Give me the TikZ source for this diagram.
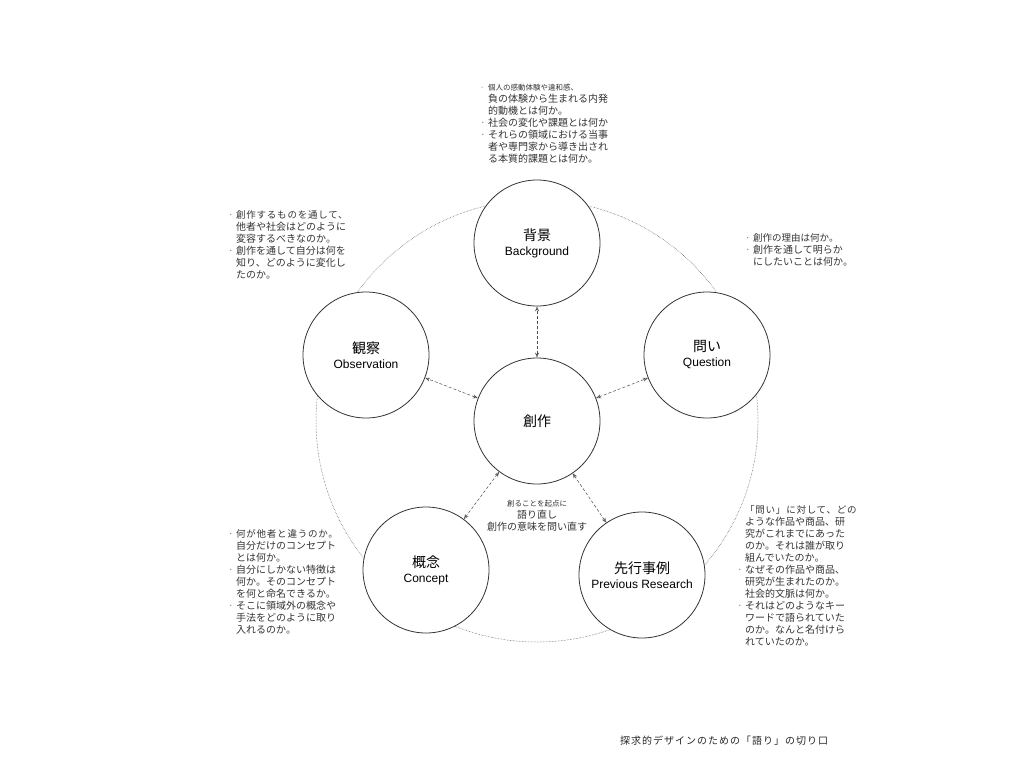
\documentclass[tikz,border=0pt]{standalone}
\usepackage{fontspec}
\setmainfont{Noto Sans CJK JP}
\newfontfamily\lat{Liberation Sans}
\usetikzlibrary{arrows.meta}
\newcommand{\bu}{\makebox[8pt][l]{\textcolor{gray}{·}}}
\newcommand{\ind}{\hspace*{8pt}}
\begin{document}
\begin{tikzpicture}[x=1pt,y=-1pt,
  big/.style={circle,draw=black!80,line width=0.8pt,minimum size=126pt,inner sep=0pt,align=center},
  note/.style={anchor=north west,align=left,inner sep=0pt,text=black!80},
  conn/.style={densely dashed,black!70,line width=0.5pt,{Stealth[length=5pt,width=4pt,open]}-{Stealth[length=5pt,width=4pt,open]}}]
\useasboundingbox (0,0) rectangle (1024,768);
\draw[densely dotted,black!70,line width=0.5pt] (537,421) circle (221);
\node[big,fill=white] (bg) at (537,243) {{\fontsize{14}{16}\selectfont 背景}\\[3pt]{\lat\fontsize{12}{14}\selectfont Background}};
\node[big,fill=white] (q) at (707,355) {{\fontsize{14}{16}\selectfont 問い}\\[3pt]{\lat\fontsize{12}{14}\selectfont Question}};
\node[big,fill=white] (ob) at (366,355) {{\fontsize{14}{16}\selectfont 観察}\\[3pt]{\lat\fontsize{12}{14}\selectfont Observation}};
\node[big,fill=white] (co) at (426,570) {{\fontsize{14}{16}\selectfont 概念}\\[3pt]{\lat\fontsize{12}{14}\selectfont Concept}};
\node[big,fill=white] (pr) at (642,575) {{\fontsize{14}{16}\selectfont 先行事例}\\[3pt]{\lat\fontsize{12}{14}\selectfont Previous Research}};
\node[big,fill=white] (c) at (537,421) {\fontsize{14}{16}\selectfont 創作};
\draw[conn] (c) -- (bg);
\draw[conn] (c) -- (q);
\draw[conn] (c) -- (ob);
\draw[conn] (c) -- (co);
\draw[conn] (c) -- (pr);
\node[note] (t1) at (480,84) {\fontsize{7.5}{12}\selectfont
\bu 個人の感動体験や違和感、\\ \ind 負の体験から生まれる内発\\ \ind 的動機とは何か。\\
\bu 社会の変化や課題とは何か\\ \bu それらの領域における当事\\ \ind 者や専門家から導き出され\\ \ind る本質的課題とは何か。};
\node[note] (t2) at (228,210) {\fontsize{9.5}{15.2}\selectfont\addfontfeature{LetterSpace=8}
\bu 創作するものを通して、\\ \ind 他者や社会はどのように\\ \ind 変容するべきなのか。\\
\bu 創作を通して自分は何を\\ \ind 知り、どのように変化し\\ \ind たのか。};
\node[note] (t3) at (745,233) {\fontsize{9.5}{15.2}\selectfont
\bu 創作の理由は何か。\\ \bu 創作を通して明らか\\ \ind にしたいことは何か。};
\node[note] (t4) at (228,529) {\fontsize{9.5}{15.1}\selectfont\addfontfeature{LetterSpace=8}
\bu 何が他者と違うのか。\\ \ind 自分だけのコンセプト\\ \ind とは何か。\\
\bu 自分にしかない特徴は\\ \ind 何か。そのコンセプト\\ \ind を何と命名できるか。\\
\bu そこに領域外の概念や\\ \ind 手法をどのように取り\\ \ind 入れるのか。};
\node[note] (t5) at (737,505) {\fontsize{9.5}{15.1}\selectfont\addfontfeature{LetterSpace=8}
\ind 「問い」に対して、どの\\ \ind ような作品や商品、研\\ \ind 究がこれまでにあった\\ \ind のか。それは誰が取り\\ \ind 組んでいたのか。\\
\bu なぜその作品や商品、\\ \ind 研究が生まれたのか。\\ \ind 社会的文脈は何か。\\
\bu それはどのようなキー\\ \ind ワードで語られていた\\ \ind のか。なんと名付けら\\ \ind れていたのか。};
\node[align=center,inner sep=0pt,text=black!80] (t6) at (537,516) {\fontsize{7.5}{14}\selectfont 創ることを起点に\\語り直し\\創作の意味を問い直す};
\node[anchor=west,inner sep=0pt,text=black!85] (title) at (620,741) {\fontsize{10}{12}\selectfont\addfontfeature{LetterSpace=10}探求的デザインのための「語り」の切り口};
\end{tikzpicture}
\end{document}
